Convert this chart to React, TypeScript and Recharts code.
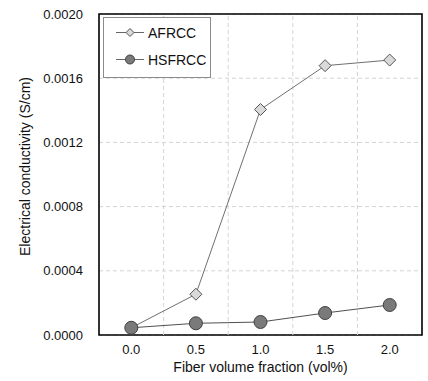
import React from "react";
import {
  LineChart,
  Line,
  XAxis,
  YAxis,
  CartesianGrid,
  ReferenceLine,
  ReferenceArea,
  Label,
} from "recharts";

const fractions = [0.0, 0.5, 1.0, 1.5, 2.0];
const afrcc = [0.000045, 0.000254, 0.001405, 0.001678, 0.001713];
const hsfrcc = [0.000045, 0.000073, 0.000081, 0.000137, 0.000187];
const xTicks = [0.0, 0.5, 1.0, 1.5, 2.0];
const xGrid = [0.25, 0.75, 1.25, 1.75];
const yTicks = [0, 0.0004, 0.0008, 0.0012, 0.0016, 0.002];

const data = fractions.map((f, i) => ({ f, afrcc: afrcc[i], hsfrcc: hsfrcc[i] }));

const font = "Arial, 'Liberation Sans', sans-serif";

function Diamond(props: any) {
  const { cx, cy } = props;
  if (cx == null || cy == null) return null;
  const r = 6;
  return (
    <path
      d={`M${cx},${cy - r}L${cx + r},${cy}L${cx},${cy + r}L${cx - r},${cy}Z`}
      fill="#d9d9d9"
      stroke="#555"
      strokeWidth={1}
    />
  );
}

function Dot(props: any) {
  const { cx, cy } = props;
  if (cx == null || cy == null) return null;
  return <circle cx={cx} cy={cy} r={6.5} fill="#7a7a7a" stroke="#3f3f3f" strokeWidth={1} />;
}

function LegendBox() {
  return (
    <svg width={108} height={61} style={{ display: "block" }}>
      <rect x={0.5} y={0.5} width={107} height={60} fill="#fff" stroke="#8c8c8c" />
      <line x1={13} x2={41} y1={15.5} y2={15.5} stroke="#666" />
      <path d="M27,11.5L31,15.5L27,19.5L23,15.5Z" fill="#d9d9d9" stroke="#555" />
      <text x={45} y={20.5} fontSize={14} fontFamily={font} fill="#111">AFRCC</text>
      <line x1={13} x2={41} y1={42.5} y2={42.5} stroke="#666" />
      <circle cx={27} cy={42.5} r={4.5} fill="#7a7a7a" stroke="#3f3f3f" />
      <text x={45} y={47.5} fontSize={14} fontFamily={font} fill="#111">HSFRCC</text>
    </svg>
  );
}

function YTitle(props: any) {
  const { viewBox } = props;
  const cx = 25;
  const cy = viewBox.y + viewBox.height / 2 - 8;
  return (
    <text
      x={cx}
      y={cy}
      transform={`rotate(-90 ${cx} ${cy})`}
      textAnchor="middle"
      dominantBaseline="central"
      fontSize={14}
      fontFamily={font}
      fill="#111"
    >
      Electrical conductivity (S/cm)
    </text>
  );
}

export default function App() {
  return (
    <div style={{ position: "fixed", left: 0, top: 0, width: 428, height: 381, background: "#fff" }}>
      <LineChart
        width={428}
        height={381}
        data={data}
        margin={{ top: 14, right: 6, bottom: 6, left: 10 }}
      >
        <CartesianGrid vertical={false} stroke="#d4d4d4" strokeDasharray="4 3" />
        {xGrid.map((v) => (
          <ReferenceLine key={v} x={v} stroke="#d4d4d4" strokeDasharray="4 3" />
        ))}
        <XAxis
          dataKey="f"
          type="number"
          domain={[-0.25, 2.25]}
          ticks={xTicks}
          tickFormatter={(v: number) => v.toFixed(1)}
          axisLine={false}
          tickLine={false}
          tickSize={0}
          tickMargin={10}
          height={40}
          tick={{ fontSize: 13, fontFamily: font, fill: "#111" }}
        >
          <Label
            value="Fiber volume fraction (vol%)"
            position="insideBottom"
            offset={3}
            style={{ fontSize: 14, fontFamily: font, fill: "#111" }}
          />
        </XAxis>
        <YAxis
          type="number"
          domain={[0, 0.002]}
          ticks={yTicks}
          tickFormatter={(v: number) => v.toFixed(4)}
          axisLine={false}
          tickLine={false}
          tickSize={0}
          tickMargin={16}
          width={89}
          tick={{ fontSize: 13, fontFamily: font, fill: "#111" }}
        >
          <Label content={<YTitle />} />
        </YAxis>
        <ReferenceArea
          x1={-0.25}
          x2={2.25}
          y1={0}
          y2={0.002}
          fill="none"
          stroke="#000"
          strokeWidth={1.6}
          ifOverflow="visible"
        />
        <Line
          dataKey="afrcc"
          stroke="#707070"
          strokeWidth={1}
          dot={<Diamond />}
          activeDot={false}
          isAnimationActive={false}
        />
        <Line
          dataKey="hsfrcc"
          stroke="#505050"
          strokeWidth={1}
          dot={<Dot />}
          activeDot={false}
          isAnimationActive={false}
        />
      </LineChart>
      <div style={{ position: "absolute", left: 103, top: 17 }}>
        <LegendBox />
      </div>
    </div>
  );
}
